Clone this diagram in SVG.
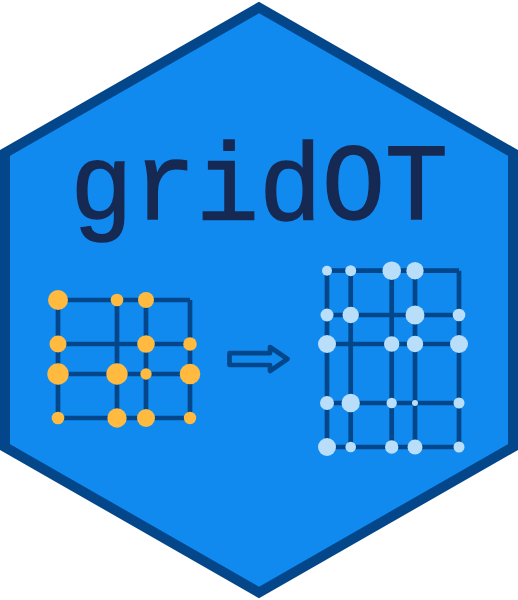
<svg xmlns="http://www.w3.org/2000/svg" width="518" height="600" viewBox="0 0 518 600">
<style>
.hex{fill:#118af0;stroke:#03468a;stroke-width:10;stroke-linejoin:miter}
.title{font-family:"Liberation Mono","DejaVu Sans Mono",monospace;font-size:109px;fill:#162953;stroke:#162953;stroke-width:1.500}
.e{fill:none;stroke:#03468a;stroke-width:4.700}
.a{fill:#ffba3f}
.b{fill:#b9def9}
</style>
<rect width="518" height="600" fill="#fff"/>
<polygon id="hexagon" class="hex" points="259,7.500 513,153 513,447 259,592.500 5,447 5,153"/>
<text id="title" class="title" x="70" y="219" textLength="378" lengthAdjust="spacingAndGlyphs">gridOT</text>
<g id="connectors">
<path class="e" d="M58 300H190M58 344H190M58 374H190M58 418H190M58 300V418M117 300V418M146 300V418M190 300V418"/>
<path class="e" d="M327 270.700H459M327 315H459M327 344H459M327 403H459M327 447H459M327 270.700V447M350.700 270.700V447M391.700 270.700V447M415 270.700V447M459 270.700V447"/>
<path id="arrow" class="e" stroke-linejoin="round" d="M229.500 353.200H270V347L287.500 359L270 371V365H229.500Z"/>
</g>
<g id="source-nodes" class="a">
<circle cx="58" cy="300" r="10"/><circle cx="117" cy="300" r="6.300"/><circle cx="146" cy="300" r="8"/>
<circle cx="58" cy="344" r="8.500"/><circle cx="146" cy="344" r="8.800"/><circle cx="190" cy="344" r="6.800"/>
<circle cx="58" cy="374" r="10.700"/><circle cx="117" cy="374" r="10.700"/><circle cx="146" cy="374" r="5.700"/><circle cx="190" cy="374" r="10.300"/>
<circle cx="58" cy="418" r="6.300"/><circle cx="117" cy="418" r="9.700"/><circle cx="146" cy="418" r="9"/><circle cx="190" cy="418" r="6.200"/>
</g>
<g id="target-nodes" class="b">
<circle cx="327" cy="270.700" r="5"/><circle cx="350.700" cy="270.700" r="5.500"/><circle cx="391.700" cy="270.700" r="9.300"/><circle cx="415" cy="270.700" r="8.700"/>
<circle cx="327" cy="315" r="6.500"/><circle cx="350.700" cy="315" r="8.200"/><circle cx="415" cy="315" r="9.500"/><circle cx="459" cy="315" r="6.300"/>
<circle cx="327" cy="344" r="9"/><circle cx="391.700" cy="344" r="7.700"/><circle cx="415" cy="344" r="8.200"/><circle cx="459" cy="344" r="9"/>
<circle cx="327" cy="403" r="7"/><circle cx="350.700" cy="403" r="9.200"/><circle cx="391.700" cy="403" r="5.200"/><circle cx="415" cy="403" r="3"/><circle cx="459" cy="403" r="5.500"/>
<circle cx="327" cy="447" r="9"/><circle cx="350.700" cy="447" r="5.300"/><circle cx="391.700" cy="447" r="6.700"/><circle cx="415" cy="447" r="7.500"/><circle cx="459" cy="447" r="5.500"/>
</g>
</svg>
